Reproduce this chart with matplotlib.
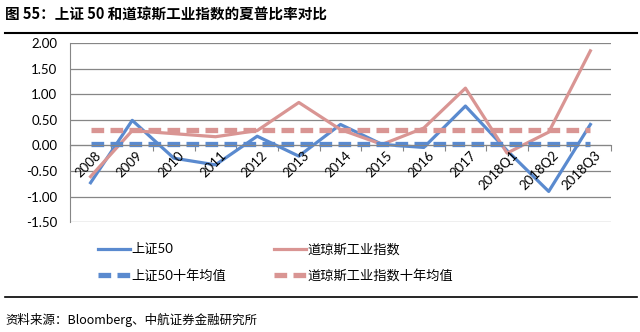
import numpy as np
import matplotlib.pyplot as plt
from matplotlib.lines import Line2D

plt.rcParams['font.family'] = ['Lato', 'Noto Sans CJK SC', 'DejaVu Sans']

# 数据
categorias = ['2008', '2009', '2010', '2011', '2012', '2013', '2014', '2015',
              '2016', '2017', '2018Q1', '2018Q2', '2018Q3']
sz50 = [-0.73, 0.49, -0.25, -0.38, 0.18, -0.21, 0.41, 0.02, -0.04, 0.77, -0.10, -0.90, 0.41]
dji = [-0.61, 0.29, 0.23, 0.17, 0.29, 0.84, 0.31, 0.02, 0.34, 1.12, -0.15, 0.26, 1.85]
sz50_media = 0.02
dji_media = 0.31

azul = '#5A8ACF'
rosa = '#D99593'

fig = plt.figure(figsize=(6.4, 3.32), dpi=100)
ax = fig.add_axes([0.109, 0.331, 0.846, 0.539])

x = np.arange(len(categorias))
l1, = ax.plot(x, sz50, color=azul, lw=2.3, label='上证50')
l2, = ax.plot(x, dji, color=rosa, lw=2.3, label='道琼斯工业指数')
l3, = ax.plot(x, [sz50_media] * len(x), color=azul, lw=3.8, dashes=(2.4, 1.2),
              label='上证50十年均值')
l4, = ax.plot(x, [dji_media] * len(x), color=rosa, lw=3.8, dashes=(2.4, 1.2),
              label='道琼斯工业指数十年均值')

ax.set_xlim(-0.5, len(x) - 0.5)
ax.set_ylim(-1.5, 2.0)
ax.set_yticks(np.arange(-1.5, 2.01, 0.5))
ax.set_yticklabels(['%.2f' % v for v in np.arange(-1.5, 2.01, 0.5)], fontsize=9.5)
ax.yaxis.grid(True, color='#868686', lw=0.9)
ax.set_axisbelow(True)
ax.tick_params(axis='y', length=0, pad=9)

for s in ['top', 'right']:
    ax.spines[s].set_visible(False)
ax.spines['left'].set_color('#868686')
ax.spines['bottom'].set_color('#868686')
ax.spines['bottom'].set_position(('data', 0))

ax.set_xticks(np.arange(-0.5, len(x), 1), minor=False)
ax.set_xticklabels([])
ax.tick_params(axis='x', length=4, color='#868686', direction='out')
for i, c in enumerate(categorias):
    ax.text(i + 0.1, -0.07, c, rotation=45, ha='right', va='top',
            rotation_mode='anchor', fontsize=9.5, color='black')

fig.legend(handles=[l1, l3, l2, l4], ncol=2, loc='upper left',
           bbox_to_anchor=(0.145, 0.285), frameon=False, fontsize=9.5,
           handlelength=2.4, handletextpad=0.15, columnspacing=3.6,
           labelspacing=1.05, borderaxespad=0)

# título y fuente
fig.text(0.008, 0.955, '图 55：上证 50 和道琼斯工业指数的夏普比率对比',
         fontsize=10.5, fontweight='bold', va='center',
         family=['Noto Sans CJK SC', 'DejaVu Sans'])
fig.add_artist(Line2D([0.008, 0.995], [0.90, 0.90], color='black', lw=1.5))
fig.add_artist(Line2D([0.008, 0.995], [0.105, 0.105], color='black', lw=1.2))
fig.text(0.008, 0.035, '资料来源：Bloomberg、中航证券金融研究所', fontsize=9,
         style='italic', va='center', family=['Noto Sans CJK SC', 'DejaVu Sans'])

fig.savefig('out.png', dpi=100)
